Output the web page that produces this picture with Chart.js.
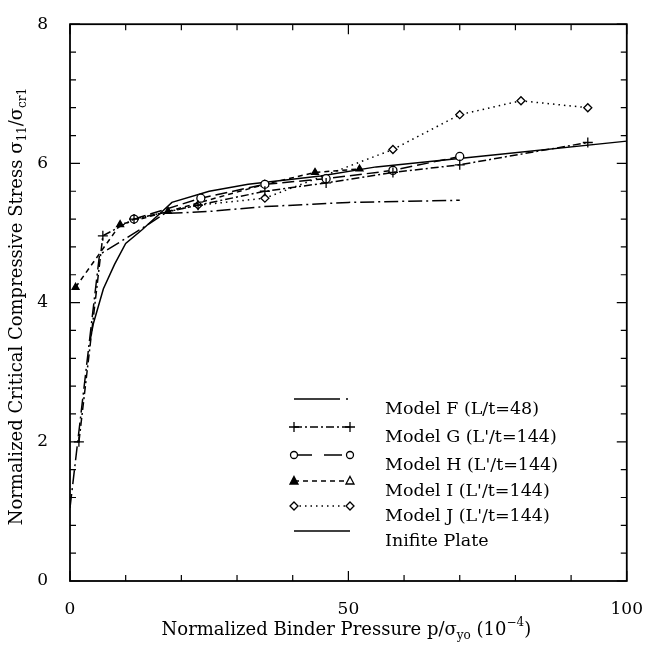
<!DOCTYPE html>
<html lang="en">
<head>
<meta charset="UTF-8">
<title>Critical Compressive Stress vs Binder Pressure</title>
<script src="https://cdn.jsdelivr.net/npm/chart.js"></script>
<style>
    html, body { margin: 0; padding: 0; background: #fff; }
</style>
</head>
<body>
<canvas id="graph" width="653" height="648"></canvas>
<script>
    // data
    const modelFx = [0, 5.3, 13, 17, 25, 35, 50, 70];
    const modelFy = [1.05, 4.69, 5.07, 5.28, 5.31, 5.38, 5.44, 5.47];

    const modelGx = [1.6, 5.9, 11.5, 23, 35, 46, 58, 70, 93];
    const modelGy = [2.0, 4.96, 5.2, 5.4, 5.6, 5.72, 5.87, 5.98, 6.3];

    const modelHx = [11.5, 23.5, 35, 46, 58, 70];
    const modelHy = [5.2, 5.5, 5.7, 5.78, 5.9, 6.1];

    const modelIx = [1, 9, 17.6, 35, 44, 52];
    const modelIy = [4.22, 5.12, 5.31, 5.7, 5.87, 5.92];

    const modelJx = [11.5, 23, 35, 58, 70, 81, 93];
    const modelJy = [5.2, 5.4, 5.5, 6.2, 6.7, 6.9, 6.8];

    const plateX = [3.6, 4.2, 6, 8, 10, 13, 16.7, 18.3, 25, 32, 45, 55, 76, 100];
    const plateY = [3.45, 3.7, 4.2, 4.55, 4.85, 5.05, 5.32, 5.44, 5.6, 5.7, 5.82, 5.95, 6.12, 6.32];

    const xLabels = [0, 50, 100];
    const yLabels = [0, 2, 4, 6, 8];

    const FONT = '"DejaVu Serif", "Liberation Serif", serif';

    function pts(xs, ys) {
        return xs.map((x, i) => ({ x: x, y: ys[i] }));
    }

    const series = [
        { label: 'Model F (L/t=48)', data: pts(modelFx, modelFy), dash: [14, 4, 2, 4], key: [46, 6, 2, 20], style: false },
        { label: "Model G (L'/t=144)", data: pts(modelGx, modelGy), dash: [8, 3, 2, 3], style: 'cross' },
        { label: "Model H (L'/t=144)", data: pts(modelHx, modelHy), dash: [12, 5], key: [18, 12], style: 'circle' },
        { label: "Model I (L'/t=144)", data: pts(modelIx, modelIy), dash: [5, 4], style: 'triangle' },
        { label: "Model J (L'/t=144)", data: pts(modelJx, modelJy), dash: [1.5, 4], style: 'rectRot' },
        { label: 'Inifite Plate', data: pts(plateX, plateY), dash: [], style: false }
    ];

    function drawMarker(ctx, style, x, y, filled) {
        ctx.save();
        ctx.setLineDash([]);
        ctx.lineWidth = 1.3;
        ctx.strokeStyle = '#000';
        ctx.fillStyle = filled ? '#000' : '#fff';
        ctx.beginPath();
        if (style === 'cross') {
            ctx.moveTo(x - 5, y); ctx.lineTo(x + 5, y);
            ctx.moveTo(x, y - 5); ctx.lineTo(x, y + 5);
            ctx.stroke();
        } else if (style === 'circle') {
            ctx.arc(x, y, 3.5, 0, Math.PI * 2);
            ctx.fill(); ctx.stroke();
        } else if (style === 'triangle') {
            ctx.moveTo(x, y - 4.5); ctx.lineTo(x + 4, y + 3); ctx.lineTo(x - 4, y + 3);
            ctx.closePath();
            ctx.fill(); ctx.stroke();
        } else if (style === 'rectRot') {
            ctx.moveTo(x, y - 4); ctx.lineTo(x + 4, y); ctx.lineTo(x, y + 4); ctx.lineTo(x - 4, y);
            ctx.closePath();
            ctx.fill(); ctx.stroke();
        }
        ctx.restore();
    }

    // text with sub/superscripts, parts = [[text, 0|-1|1], ...]
    function richWidth(ctx, parts, size) {
        let w = 0;
        parts.forEach(p => {
            ctx.font = (p[1] ? Math.round(size * 0.68) : size) + 'px ' + FONT;
            w += ctx.measureText(p[0]).width;
        });
        return w;
    }

    function drawRich(ctx, parts, cx, cy, size) {
        let x = cx - richWidth(ctx, parts, size) / 2;
        ctx.textBaseline = 'middle';
        ctx.textAlign = 'left';
        parts.forEach(p => {
            const small = p[1] !== 0;
            ctx.font = (small ? Math.round(size * 0.68) : size) + 'px ' + FONT;
            const dy = p[1] === -1 ? size * 0.3 : (p[1] === 1 ? -size * 0.38 : 0);
            ctx.fillText(p[0], x, cy + dy);
            x += ctx.measureText(p[0]).width;
        });
    }

    const framePlugin = {
        id: 'frame',
        beforeDraw(chart) {
            const ctx = chart.ctx;
            ctx.save();
            ctx.fillStyle = '#fff';
            ctx.fillRect(0, 0, chart.width, chart.height);
            ctx.restore();
        },
        afterDraw(chart) {
            const ctx = chart.ctx;
            const a = chart.chartArea;
            const xs = chart.scales.x, ys = chart.scales.y;
            ctx.save();
            ctx.strokeStyle = '#000';
            ctx.fillStyle = '#000';
            ctx.lineWidth = 1.8;
            ctx.setLineDash([]);
            ctx.strokeRect(a.left, a.top, a.right - a.left, a.bottom - a.top);

            // inward ticks on all four sides
            ctx.lineWidth = 1.2;
            ctx.beginPath();
            xs.ticks.forEach(t => {
                const px = xs.getPixelForValue(t.value);
                const len = xLabels.includes(Math.round(t.value)) ? 10 : 6;
                ctx.moveTo(px, a.bottom); ctx.lineTo(px, a.bottom - len);
                ctx.moveTo(px, a.top); ctx.lineTo(px, a.top + len);
            });
            ys.ticks.forEach(t => {
                const py = ys.getPixelForValue(t.value);
                const major = Math.abs(t.value - Math.round(t.value)) < 1e-6 && Math.round(t.value) % 2 === 0;
                const len = major ? 10 : 6;
                ctx.moveTo(a.left, py); ctx.lineTo(a.left + len, py);
                ctx.moveTo(a.right, py); ctx.lineTo(a.right - len, py);
            });
            ctx.stroke();

            // axis titles
            drawRich(ctx, [['Normalized Binder Pressure p/σ', 0], ['yo', -1], [' (10', 0], ['−4', 1], [')', 0]],
                (a.left + a.right) / 2 - 2, 630, 18);
            ctx.save();
            ctx.translate(17, (a.top + a.bottom) / 2 + 4);
            ctx.rotate(-Math.PI / 2);
            drawRich(ctx, [['Normalized Critical Compressive Stress σ', 0], ['11', -1], ['/σ', 0], ['cr1', -1]], 0, 0, 18);
            ctx.restore();

            // legend
            const rowY = [399, 427, 455, 481, 506, 531];
            const x1 = 294, x2 = 350, tx = 385;
            series.forEach((s, i) => {
                const y = rowY[i];
                ctx.save();
                ctx.lineWidth = 1.5;
                ctx.setLineDash(s.key || s.dash);
                ctx.beginPath();
                ctx.moveTo(x1, y); ctx.lineTo(x2, y);
                ctx.stroke();
                ctx.restore();
                if (s.style) {
                    drawMarker(ctx, s.style, x1, y, s.style === 'triangle');
                    drawMarker(ctx, s.style, x2, y, false);
                }
                ctx.fillStyle = '#000';
                ctx.font = '17.5px ' + FONT;
                ctx.textAlign = 'left';
                ctx.textBaseline = 'middle';
                ctx.fillText(s.label, tx, y + 10);
            });
            ctx.restore();
        }
    };

    window.onload = function() {
        const ctx = document.getElementById('graph').getContext('2d');
        new Chart(ctx, {
            type: 'scatter',
            data: {
                datasets: series.map(s => ({
                    label: s.label,
                    data: s.data,
                    showLine: true,
                    borderColor: '#000',
                    borderWidth: 1.5,
                    borderDash: s.dash,
                    pointStyle: s.style || 'circle',
                    pointRadius: s.style ? (s.style === 'cross' ? 5 : 4) : 0,
                    pointBorderWidth: 1.3,
                    pointBorderColor: '#000',
                    pointBackgroundColor: s.style === 'triangle' ? '#000' : '#fff',
                    fill: false
                }))
            },
            options: {
                responsive: false,
                animation: false,
                events: [],
                layout: { padding: { top: 15, right: 16, left: 0, bottom: 0 } },
                plugins: { legend: { display: false }, tooltip: { enabled: false } },
                scales: {
                    x: {
                        type: 'linear',
                        min: 0, max: 100,
                        grid: { display: false },
                        border: { display: false },
                        afterFit: s => { s.height = 67; },
                        ticks: {
                            stepSize: 10,
                            autoSkip: false,
                            maxRotation: 0,
                            padding: 10,
                            color: '#000',
                            font: { family: FONT, size: 17 },
                            callback: v => xLabels.includes(v) ? String(v) : ''
                        }
                    },
                    y: {
                        type: 'linear',
                        min: 0, max: 8,
                        grid: { display: false },
                        border: { display: false },
                        afterFit: s => { s.width = 70; },
                        ticks: {
                            stepSize: 0.4,
                            autoSkip: false,
                            padding: 14,
                            color: '#000',
                            font: { family: FONT, size: 17 },
                            callback: v => {
                                const r = Math.round(v);
                                return (Math.abs(v - r) < 1e-6 && yLabels.includes(r)) ? String(r) : '';
                            }
                        }
                    }
                }
            },
            plugins: [framePlugin]
        });
    };
</script>
</body>
</html>
